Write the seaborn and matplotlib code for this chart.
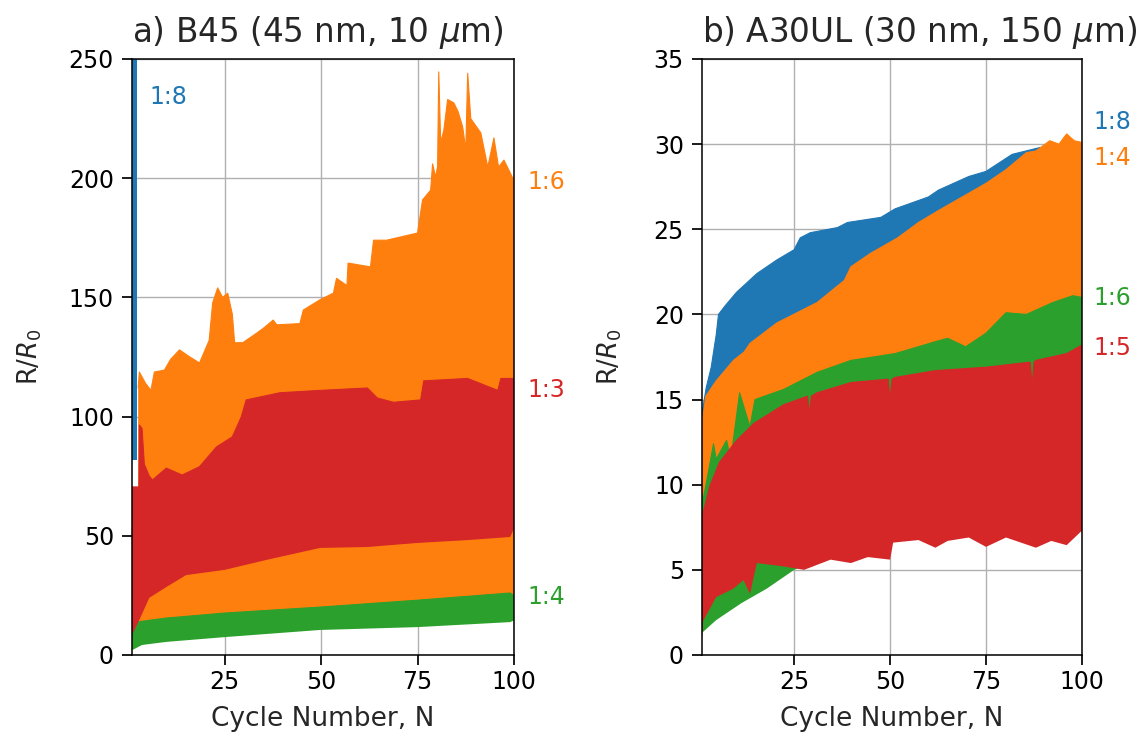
import numpy as np
import pandas as pd
import matplotlib
matplotlib.use("Agg")
import matplotlib.pyplot as plt
import seaborn as sns

# ---------------- data: panel a) B45 ----------------
a_18_up_x = [1.0, 2.2]
a_18_up_y = [400, 400]
a_18_lo_x = [1.0, 2.2]
a_18_lo_y = [82, 82]

a_16_up_x = [2.6, 2.9, 4.5, 5.9, 6.8, 9.4, 11, 13.3, 16, 18.5, 21, 21.9, 23.2, 24.5,
             25.8, 27, 27.6, 29.7, 33.3, 35, 37.6, 38.5, 44.5, 45.4, 49.7, 53.2, 54,
             56.7, 57, 62.8, 63.6, 67, 75, 76.3, 78.4, 78.9, 79.7, 80.2, 80.5, 81.0,
             81.8, 82.8, 84.4, 85.5, 86.7, 87.5, 88.0, 88.8, 91.4, 93.2, 94.8, 96,
             97.4, 99.7, 100]
a_16_up_y = [112, 118.7, 114, 111, 118.7, 119.5, 124, 128, 125, 122.5, 132, 147.7, 154,
             150, 151.8, 143, 131, 131, 135, 137, 140.5, 138.5, 139, 144.7, 149, 151.8,
             158, 155, 164.4, 162.8, 174, 174, 177, 190.9, 195, 206, 200.5, 205, 244.6,
             215, 220, 233, 231.6, 228, 221.5, 212, 244, 225, 219, 204.7, 216.9, 204.7,
             207.6, 200, 198]
a_16_lo_x = [2.6, 5, 10, 25, 50, 75, 100]
a_16_lo_y = [10, 12, 13, 15.5, 18, 21, 24]

a_14_up_x = [1, 2, 9.9, 25, 49.7, 75, 99, 100]
a_14_up_y = [10, 13.8, 15.5, 17.6, 20.1, 23, 26, 25]
a_14_lo_x = [1, 3.6, 9.9, 25, 49.7, 75, 99, 100]
a_14_lo_y = [2, 4.2, 5.5, 7.5, 10.5, 11.7, 13.8, 14.5]

a_13_up_x = [1, 2.8, 2.9, 3.6, 4.2, 5.5, 6.3, 9.9, 14, 18.5, 22.9, 27, 29.3, 30.6, 39.3,
             49.7, 62, 64.6, 68.8, 75.8, 76.6, 88, 95.8, 96.6, 100]
a_13_up_y = [70.5, 70.5, 96.5, 95, 80, 75, 73.4, 78.4, 75.5, 79, 87.3, 91.5, 99.8, 107,
             110, 111, 112, 107.8, 106, 107, 115, 116, 111, 116, 116]
a_13_lo_x = [1, 2.9, 5.5, 9.9, 15, 25, 35.9, 49.7, 62, 75, 88, 99, 100]
a_13_lo_y = [8.4, 14.7, 24, 28.5, 33.5, 35.7, 39.9, 44.9, 45.3, 47, 48.2, 49.5, 53]

# ---------------- data: panel b) A30UL ----------------
b_18_up_x = [1, 2.1, 3.4, 4.7, 5.3, 7, 10, 15.3, 20.5, 25, 26.6, 29.2, 36.3, 38.9, 47.6,
             51.3, 60, 62.6, 70.5, 75, 81.8, 89, 90]
b_18_up_y = [14.2, 15.7, 16.9, 18.8, 20.0, 20.5, 21.3, 22.4, 23.2, 23.8, 24.5, 24.8, 25.1,
             25.4, 25.7, 26.2, 26.9, 27.3, 28.1, 28.4, 29.4, 29.8, 29.5]
b_18_lo_x = [1, 50, 90]
b_18_lo_y = [13, 16, 20]

b_14_up_x = [1, 2, 4.7, 9.2, 12, 13.5, 20.5, 31, 38.1, 39.8, 45, 52, 57.4, 62.6, 75, 80.2,
             85.5, 88, 91.6, 94, 96, 98, 100]
b_14_up_y = [13.6, 15.2, 16.1, 17.3, 17.8, 18.3, 19.5, 20.7, 22.0, 22.8, 23.6, 24.5, 25.4,
             26.1, 27.7, 28.5, 29.5, 29.6, 30.2, 30.0, 30.6, 30.2, 30.1]
b_14_lo_x = [1, 25, 50, 100]
b_14_lo_y = [6, 8, 10, 12]

b_16_up_x = [1, 1.8, 4, 4.7, 7.4, 8.5, 10.8, 13.5, 14.8, 22.3, 31, 39.8, 51.3, 61.8, 65,
             69.7, 75, 80.2, 85.5, 92.4, 97.6, 100]
b_16_up_y = [8.9, 9.7, 12.4, 11.5, 12.6, 11.5, 15.4, 13.4, 15.0, 15.6, 16.6, 17.3, 17.7,
             18.4, 18.6, 18.1, 18.9, 20.1, 20.0, 20.7, 21.1, 21.0]
b_16_lo_x = [1, 4.7, 11.3, 17.9, 25, 33.7, 50, 75, 100]
b_16_lo_y = [1.3, 2.05, 3.05, 3.9, 5.0, 5.8, 7.5, 8.3, 9.0]

b_15_up_x = [1, 3, 5.5, 10, 14.5, 22.3, 28.5, 29, 29.5, 31, 39.8, 49.5, 50, 50.5, 51.3,
             61.8, 75, 86.5, 87, 87.5, 88, 96, 100]
b_15_up_y = [8.1, 9.9, 11.3, 12.6, 13.6, 14.7, 15.2, 14.2, 15.2, 15.4, 16.0, 16.2, 15.0,
             16.2, 16.3, 16.7, 16.9, 17.2, 15.8, 17.2, 17.3, 17.7, 18.2]
b_15_lo_x = [1, 1.3, 4.7, 9.2, 11.8, 13.5, 15.3, 22.3, 27.6, 34.5, 39.8, 44.2, 50, 50.8,
             57.4, 61.8, 65, 70.5, 75, 80.2, 88, 92, 96, 99.5, 100]
b_15_lo_y = [0.9, 2.0, 3.4, 3.9, 4.4, 3.6, 5.4, 5.2, 5.0, 5.6, 5.4, 5.75, 5.6, 6.6, 6.75,
             6.3, 6.7, 6.9, 6.35, 6.9, 6.3, 6.7, 6.45, 7.2, 7.3]

panel_a = [("1:8", a_18_up_x, a_18_up_y, a_18_lo_x, a_18_lo_y, 0),
           ("1:6", a_16_up_x, a_16_up_y, a_16_lo_x, a_16_lo_y, 1),
           ("1:4", a_14_up_x, a_14_up_y, a_14_lo_x, a_14_lo_y, 2),
           ("1:3", a_13_up_x, a_13_up_y, a_13_lo_x, a_13_lo_y, 3)]
panel_b = [("1:8", b_18_up_x, b_18_up_y, b_18_lo_x, b_18_lo_y, 0),
           ("1:4", b_14_up_x, b_14_up_y, b_14_lo_x, b_14_lo_y, 1),
           ("1:6", b_16_up_x, b_16_up_y, b_16_lo_x, b_16_lo_y, 2),
           ("1:5", b_15_up_x, b_15_up_y, b_15_lo_x, b_15_lo_y, 3)]

labels_a = [("1:8", 0.045, 0.936, 0), ("1:6", 1.034, 0.794, 1),
            ("1:3", 1.034, 0.445, 3), ("1:4", 1.034, 0.097, 2)]
labels_b = [("1:8", 1.029, 0.894, 0), ("1:4", 1.029, 0.834, 1),
            ("1:6", 1.029, 0.599, 2), ("1:5", 1.029, 0.515, 3)]

titles = ["a) B45 (45 nm, 10 $\\mu$m)", "b) A30UL (30 nm, 150 $\\mu$m)"]

# ---------------- style ----------------
sns.set_theme(style="ticks", rc={
    "axes.grid": True, "grid.color": "#b0b0b0", "grid.linewidth": 1.0,
    "axes.edgecolor": "black", "axes.linewidth": 1.1,
    "xtick.color": "black", "ytick.color": "black",
    "xtick.major.size": 7, "ytick.major.size": 7,
    "xtick.major.pad": 4, "ytick.major.pad": 6,
    "text.color": "#262626", "axes.labelcolor": "#262626",
})
plt.rcParams["font.family"] = ["DejaVu Sans"]
FS = 17
pal = sns.color_palette("tab10")

fig = plt.figure(figsize=(11.43, 7.40), dpi=100)
ax_a = fig.add_axes([132 / 1143, 1 - 655 / 740, (514 - 132) / 1143, (655 - 59) / 740])
ax_b = fig.add_axes([702 / 1143, 1 - 655 / 740, (1082 - 702) / 1143, (655 - 59) / 740])


def draw(ax, series):
    for name, ux, uy, lx, ly, ci in series:
        px = list(ux) + list(lx)[::-1]
        py = list(uy) + list(ly)[::-1]
        ax.fill(px, py, color=pal[ci], linewidth=0, zorder=2)
        df = pd.DataFrame({"x": ux, "y": uy})
        sns.lineplot(data=df, x="x", y="y", ax=ax, color=pal[ci], linewidth=0.8,
                     estimator=None, sort=False, zorder=2)


draw(ax_a, panel_a)
draw(ax_b, panel_b)

ax_a.set_xlim(1, 100)
ax_a.set_ylim(0, 250)
ax_a.set_yticks(np.arange(0, 251, 50))
ax_b.set_xlim(1, 100)
ax_b.set_ylim(0, 35)
ax_b.set_yticks(np.arange(0, 36, 5))

for ax, t, labs, ylx in [(ax_a, titles[0], labels_a, -0.23),
                         (ax_b, titles[1], labels_b, -0.205)]:
    ax.set_xticks([25, 50, 75, 100])
    ax.set_axisbelow(True)
    ax.set_title(t, fontsize=23.5, loc="left", pad=12)
    ax.set_xlabel("Cycle Number, N", fontsize=19)
    ax.set_ylabel("R/$R_0$", fontsize=18.5)
    ax.xaxis.set_label_coords(0.5, -0.085)
    ax.yaxis.set_label_coords(ylx, 0.5)
    ax.tick_params(labelsize=FS)
    for s in ax.spines.values():
        s.set_visible(True)
        s.set_color("black")
    for txt, x, y, ci in labs:
        ax.text(x, y, txt, transform=ax.transAxes, color=pal[ci], fontsize=FS,
                ha="left", va="center")

fig.savefig("out.png", dpi=100)
